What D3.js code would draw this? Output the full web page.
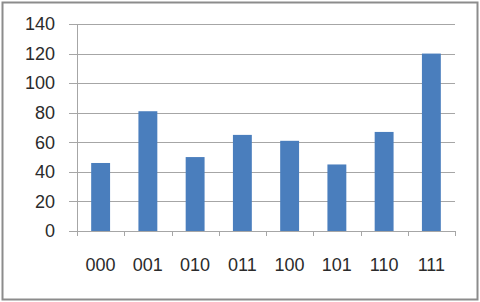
<!DOCTYPE html>
<html>
<head>
<meta charset="utf-8">
<script src="https://cdn.jsdelivr.net/npm/d3@7"></script>
<style>
  body { margin: 0; background: #fff; }
  svg text { font-family: "Liberation Sans", Arial, sans-serif; fill: #2b2b2b; }
</style>
</head>
<body>
<div id="app"></div>
<script>
// chart data
let categories = ["000", "001", "010", "011", "100", "101", "110", "111"]
let values = [46, 81, 50, 65, 61, 45, 67, 120]
let yTicks = [0, 20, 40, 60, 80, 100, 120, 140]

let width = 480
let height = 302
let margin = {top: 24, right: 25, bottom: 71, left: 77}

let svg = d3.select("#app").append("svg")
    .attr("width", width)
    .attr("height", height)

// outer frame
svg.append("rect")
    .attr("x", 2.5).attr("y", 2.5)
    .attr("width", width - 5).attr("height", height - 5)
    .attr("fill", "#fff")
    .attr("stroke", "#8c8c8c")
    .attr("stroke-width", 2)

let x = d3.scaleBand()
    .domain(categories)
    .range([margin.left, width - margin.right])
    .paddingInner(0.6)
    .paddingOuter(0.3)

let y = d3.scaleLinear()
    .domain([0, 140])
    .range([height - margin.bottom, margin.top])

// y axis labels
let yAxis = svg.append("g")
    .attr("transform", `translate(${margin.left},0)`)
    .call(d3.axisLeft(y).tickValues(yTicks).tickSize(0).tickPadding(22))
yAxis.select(".domain").remove()
yAxis.selectAll("text").style("font-size", "18px")

// gridlines
svg.append("g")
    .selectAll("line")
    .data(yTicks)
    .enter().append("line")
    .attr("x1", margin.left - 8)
    .attr("x2", width - margin.right)
    .attr("y1", d => Math.round(y(d)) + 0.5)
    .attr("y2", d => Math.round(y(d)) + 0.5)
    .attr("stroke", "#a6a6a6")
    .attr("stroke-width", 1)

// vertical axis line
svg.append("line")
    .attr("x1", margin.left + 0.5).attr("x2", margin.left + 0.5)
    .attr("y1", y(140)).attr("y2", y(0))
    .attr("stroke", "#a6a6a6")

// bars
svg.append("g")
    .selectAll("rect")
    .data(values)
    .enter().append("rect")
    .attr("x", (d, i) => x(categories[i]))
    .attr("y", d => y(d))
    .attr("width", x.bandwidth())
    .attr("height", d => y(0) - y(d))
    .attr("fill", "#4a7ebd")

// x axis ticks between categories
let bounds = d3.range(categories.length + 1).map(i => margin.left + i * (width - margin.left - margin.right) / categories.length)
svg.append("g")
    .selectAll("line")
    .data(bounds)
    .enter().append("line")
    .attr("x1", d => Math.round(d) + 0.5)
    .attr("x2", d => Math.round(d) + 0.5)
    .attr("y1", y(0))
    .attr("y2", y(0) + 5)
    .attr("stroke", "#a6a6a6")

svg.append("g")
    .selectAll("text")
    .data(categories)
    .enter().append("text")
    .attr("x", d => x(d) + x.bandwidth() / 2)
    .attr("y", y(0) + 40)
    .attr("text-anchor", "middle")
    .style("font-size", "18px")
    .text(d => d)
</script>
</body>
</html>
